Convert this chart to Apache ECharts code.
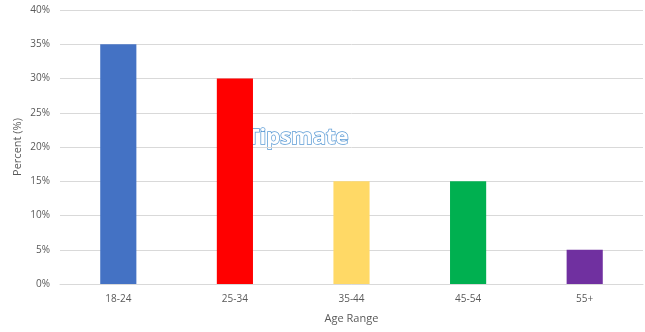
<!DOCTYPE html>
<html><head><meta charset="utf-8">
<script src="https://cdn.jsdelivr.net/npm/echarts@6/dist/echarts.min.js"></script>
<style>html,body{margin:0;padding:0;background:#fff}#c{width:645px;height:332px}</style>
</head><body><div id="c"></div>
<script>
const categories = ['18-24','25-34','35-44','45-54','55+'];
const values = [35, 30, 15, 15, 5];
const colors = ['#4472C4','#FF0000','#FFD966','#00B050','#7030A0'];
const yTitle = 'Percent (%)';
const chart = echarts.init(document.getElementById('c'));
chart.setOption({
  animation:false,
  grid:{left:60,right:2,top:10,bottom:48},
  xAxis:{type:'category',data:categories,name:'Age Range',nameLocation:'middle',nameGap:29,
    nameTextStyle:{color:'#595959',fontSize:11,fontFamily:'Open Sans'},
    axisLine:{lineStyle:{color:'#d9d9d9'}},axisTick:{show:false},
    axisLabel:{color:'#595959',fontSize:10,fontFamily:'Open Sans',margin:10}},
  yAxis:{type:'value',min:0,max:40,interval:5,
    axisLine:{show:false},axisTick:{show:false},
    splitLine:{lineStyle:{color:'#d9d9d9'}},
    axisLabel:{color:'#595959',fontSize:10,fontFamily:'Open Sans',formatter:'{value}%',margin:10}},
  series:[{type:'bar',barWidth:'31%',data:values.map((v,i)=>({value:v,itemStyle:{color:colors[i]}}))}],
  graphic:[
    {type:'text',x:18,y:147,rotation:Math.PI/2,style:{text:yTitle,align:'center',verticalAlign:'middle',fill:'#595959',fontSize:11,fontFamily:'Open Sans'}},
    {type:'text',left:246,top:126,style:{text:'Tipsmate',fontSize:22,fontWeight:'bold',fontFamily:'Open Sans',fill:'#ffffff',stroke:'#5b9bd5',lineWidth:1.5,shadowBlur:3,shadowColor:'rgba(91,155,213,0.6)'}}]
});
</script></body></html>
